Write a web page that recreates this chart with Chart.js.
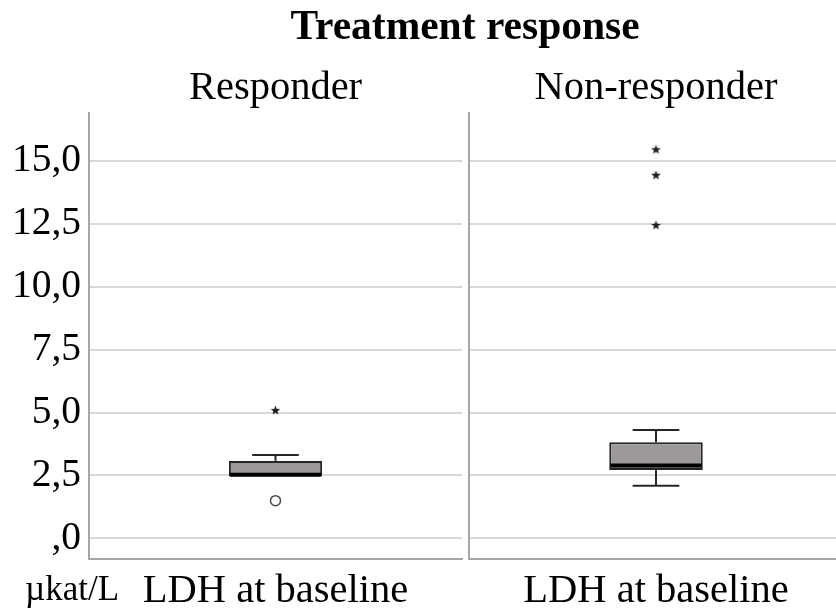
<!DOCTYPE html>
<html>
<head>
<meta charset="utf-8">
<title>LDH at baseline by treatment response</title>
<script src="https://cdn.jsdelivr.net/npm/chart.js@4.4.1/dist/chart.umd.min.js"></script>
<style>
  html, body { margin: 0; padding: 0; background: #fff; }
  #wrap { position: relative; width: 836px; height: 613px; overflow: hidden; font-family: 'Liberation Serif', 'Times New Roman', serif; color: #000; }
  #heading { position: absolute; left: 215px; width: 500px; top: 1px; text-align: center; font-size: 41.5px; line-height: 48px; font-weight: bold; }
  #unit { position: absolute; left: 25px; top: 569px; font-size: 35px; line-height: 40px; }
  .panel { position: absolute; top: 0; }
  canvas { display: block; }
</style>
</head>
<body>
<div id="wrap">
  <div class="panel" style="left:0;width:466px"><canvas id="respChart" width="466" height="613"></canvas></div>
  <div class="panel" style="left:466px;width:377px"><canvas id="nonRespChart" width="377" height="613"></canvas></div>
  <div id="heading">Treatment response</div>
  <div id="unit">µkat/L</div>
</div>

<script>
// ---- data ----
const GROUPS = ['Responder', 'Non-responder'];
const CATEGORY = ['LDH at baseline'];
const TICK_VALUES = [0, 2.5, 5, 7.5, 10, 12.5, 15];
const TICK_LABELS = [',0', '2,5', '5,0', '7,5', '10,0', '12,5', '15,0'];

const WHISKER_LOW = [2.47, 2.09];
const Q1 = [2.47, 2.72];
const MEDIAN = [2.53, 2.90];
const Q3 = [3.08, 3.82];
const WHISKER_HIGH = [3.31, 4.31];
const OUTLIERS = [[1.50], []];               // circles
const EXTREMES = [[5.08], [12.44, 14.43, 15.45]]; // stars

const Y_MIN = -0.82;
const Y_MAX = 16.9;

// ---- styles ----
const BOX_FILL = '#9d9999';
const BOX_LINE = '#262626';
const GRID_COLOR = '#d9d9d9';
const AXIS_COLOR = '#a6a6a6';

Chart.defaults.font.family = "'Liberation Serif', 'Times New Roman', serif";
Chart.defaults.color = '#000';

// small filled five-point star used for extreme values
function makeStar(size) {
    const c = document.createElement('canvas');
    c.width = size;
    c.height = size;
    const ctx = c.getContext('2d');
    const cx = size / 2, cy = size / 2;
    const outer = size / 2 - 0.5, inner = outer * 0.42;
    ctx.beginPath();
    for (let i = 0; i < 10; i++) {
        const r = i % 2 === 0 ? outer : inner;
        const a = -Math.PI / 2 + i * Math.PI / 5;
        ctx.lineTo(cx + r * Math.cos(a), cy + r * Math.sin(a));
    }
    ctx.closePath();
    ctx.fillStyle = '#1e1e1e';
    ctx.fill();
    return c;
}
const STAR = makeStar(11);

// whiskers + median on top of the floating bar (the IQR box)
const boxWhiskers = {
    id: 'boxWhiskers',
    afterDatasetsDraw(chart, args, opts) {
        const g = opts.group;
        const bar = chart.getDatasetMeta(0).data[0];
        if (!bar) return;
        const y = chart.scales.y;
        const ctx = chart.ctx;
        const x = bar.x;
        const half = bar.width / 2;
        const cap = bar.width / 4;

        const yLo = y.getPixelForValue(WHISKER_LOW[g]);
        const yQ1 = y.getPixelForValue(Q1[g]);
        const yMed = y.getPixelForValue(MEDIAN[g]);
        const yQ3 = y.getPixelForValue(Q3[g]);
        const yHi = y.getPixelForValue(WHISKER_HIGH[g]);

        function line(x1, y1, x2, y2) {
            ctx.beginPath();
            ctx.moveTo(x1, y1);
            ctx.lineTo(x2, y2);
            ctx.stroke();
        }

        ctx.save();
        ctx.strokeStyle = BOX_LINE;
        ctx.lineWidth = 2;
        if (WHISKER_HIGH[g] > Q3[g]) {
            line(x, yQ3, x, yHi);
            line(x - cap, yHi, x + cap, yHi);
        }
        if (WHISKER_LOW[g] < Q1[g]) {
            line(x, yQ1, x, yLo);
            line(x - cap, yLo, x + cap, yLo);
        }
        // median
        ctx.strokeStyle = '#000';
        ctx.lineWidth = 4;
        line(x - half + 1, yMed, x + half - 1, yMed);
        ctx.restore();
    }
};

function makePanel(canvasId, g) {
    const first = g === 0;
    const ctx = document.getElementById(canvasId);

    return new Chart(ctx, {
        type: 'bar',
        data: {
            labels: CATEGORY,
            datasets: [
                {
                    type: 'bar',
                    data: [[Q1[g], Q3[g]]],
                    backgroundColor: BOX_FILL,
                    borderColor: BOX_LINE,
                    borderWidth: 2,
                    borderSkipped: false,
                    categoryPercentage: 1,
                    barPercentage: 0.25
                },
                {
                    type: 'line',
                    showLine: false,
                    data: OUTLIERS[g].map(v => ({ x: CATEGORY[0], y: v })),
                    pointStyle: 'circle',
                    pointRadius: 5,
                    pointBorderWidth: 1.5,
                    pointBorderColor: '#4a4a4a',
                    pointBackgroundColor: '#fff'
                },
                {
                    type: 'line',
                    showLine: false,
                    data: EXTREMES[g].map(v => ({ x: CATEGORY[0], y: v })),
                    pointStyle: STAR,
                    pointRadius: 5
                }
            ]
        },
        options: {
            responsive: false,
            animation: false,
            layout: {
                autoPadding: false,
                padding: { left: 0, right: first ? 4 : 0, top: 0, bottom: 0 }
            },
            plugins: {
                legend: { display: false },
                tooltip: { enabled: false },
                title: {
                    display: true,
                    text: GROUPS[g],
                    fullSize: false,
                    color: '#000',
                    font: { size: 40.5, weight: 'normal', lineHeight: 1.2 },
                    padding: { top: 63.7, bottom: 1 }
                },
                boxWhiskers: { group: g }
            },
            scales: {
                x: {
                    type: 'category',
                    offset: true,
                    grid: { display: false, drawTicks: false },
                    border: { display: true, color: AXIS_COLOR, width: 2 },
                    ticks: {
                        color: '#000',
                        font: { size: 40.5, lineHeight: 1.2 },
                        padding: 8.5,
                        maxRotation: 0
                    },
                    afterFit: scale => { scale.height = 54; }
                },
                y: {
                    min: Y_MIN,
                    max: Y_MAX,
                    grid: { color: GRID_COLOR, lineWidth: 2, drawTicks: false },
                    border: { display: true, color: AXIS_COLOR, width: 2 },
                    afterBuildTicks: scale => {
                        scale.ticks = TICK_VALUES.map(v => ({ value: v }));
                    },
                    ticks: {
                        display: first,
                        color: '#000',
                        font: { size: 39.5 },
                        padding: 8,
                        callback: value => TICK_LABELS[TICK_VALUES.indexOf(value)]
                    },
                    afterFit: scale => { scale.width = first ? 89 : 3; }
                }
            }
        },
        plugins: [boxWhiskers]
    });
}

makePanel('respChart', 0);
makePanel('nonRespChart', 1);
</script>
</body>
</html>
